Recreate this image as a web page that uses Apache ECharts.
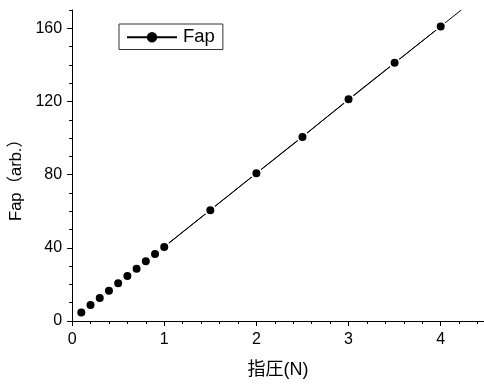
<!DOCTYPE html>
<html>
<head>
<meta charset="utf-8">
<script src="https://cdn.jsdelivr.net/npm/echarts@6/dist/echarts.min.js"></script>
<style>
	html, body { margin: 0; padding: 0; background: #fff; }
	#chart { width: 484px; height: 385px; }
</style>
</head>
<body>
<div id="chart"></div>
<script>
	// 指圧 (N)
	const pressure = [0.1, 0.2, 0.3, 0.4, 0.5, 0.6, 0.7, 0.8, 0.9, 1.0, 1.5, 2.0, 2.5, 3.0, 3.5, 4.0]
	// Fap (arb.)
	const fap = [4.7, 8.7, 12.6, 16.6, 20.6, 24.6, 28.6, 32.6, 36.6, 40.5, 60.6, 80.7, 100.6, 121.2, 141.1, 161.0]

	const xMajorTicks = [0, 1, 2, 3, 4]
	const yMajorTicks = [0, 40, 80, 120, 160]
	const xMin = 0, xMax = 4.47, xMinorStep = 0.2
	const yMin = 0, yMax = 170, yMinorStep = 10

	const steps = (min, max, step) => {
		const out = []
		for (let i = 0; min + i * step <= max + 1e-9; i++) {
			out.push(+(min + i * step).toFixed(6))
		}
		return out
	}

	// 最小二乗フィット（線を上端まで延長）
	const n = pressure.length
	const mx = pressure.reduce((a, b) => a + b, 0) / n
	const my = fap.reduce((a, b) => a + b, 0) / n
	let sxy = 0, sxx = 0
	pressure.forEach((x, i) => {
		sxy += (x - mx) * (fap[i] - my)
		sxx += (x - mx) * (x - mx)
	})
	const slope = sxy / sxx
	const icpt = my - slope * mx
	const fitLine = [
		[pressure[0], icpt + slope * pressure[0]],
		[(yMax - icpt) / slope, yMax]
	]

	const font = "'Liberation Sans', 'Noto Sans CJK JP', sans-serif"
	const dark = '#000'

	const chart = echarts.init(document.getElementById('chart'))
	chart.setOption({
		animation: false,
		textStyle: { fontFamily: font },
		grid: { left: 70, right: 0, top: 10, bottom: 64 },
		legend: {
			left: 119,
			top: 24,
			data: ['Fap'],
			orient: 'horizontal',
			borderColor: '#333',
			borderWidth: 1,
			borderRadius: 0,
			padding: [4, 8, 3, 7],
			itemWidth: 50,
			itemHeight: 13,
			itemGap: 4,
			itemStyle: { borderWidth: 0 },
			textStyle: { fontSize: 18.5, color: dark, fontFamily: font, padding: [0, 0, 0, 1] }
		},
		xAxis: [
			{
				type: 'value',
				position: 'bottom',
				min: xMin,
				max: xMax,
				name: '指圧(N)',
				nameLocation: 'middle',
				nameGap: 40,
				nameTextStyle: { fontSize: 18, color: dark, fontFamily: font },
				splitLine: { show: false },
				axisLine: { show: true, onZero: false, lineStyle: { color: dark, width: 1 } },
				axisTick: { show: true, length: 5, customValues: xMajorTicks, lineStyle: { color: dark } },
				axisLabel: { customValues: xMajorTicks, fontSize: 16, color: dark, margin: 11 }
			},
			{
				type: 'value',
				position: 'bottom',
				min: xMin,
				max: xMax,
				splitLine: { show: false },
				axisLine: { show: false },
				axisLabel: { show: false },
				axisTick: { show: true, length: 3, customValues: steps(xMin, xMax, xMinorStep), lineStyle: { color: dark } }
			}
		],
		yAxis: [
			{
				type: 'value',
				position: 'left',
				min: yMin,
				max: yMax,
				name: 'Fap（arb.）',
				nameLocation: 'middle',
				nameGap: 43,
				nameTextStyle: { fontSize: 16.5, color: dark, fontFamily: font, padding: [0, 21, 0, 0] },
				splitLine: { show: false },
				axisLine: { show: true, onZero: false, lineStyle: { color: dark, width: 1 } },
				axisTick: { show: true, length: 5, customValues: yMajorTicks, lineStyle: { color: dark } },
				axisLabel: { customValues: yMajorTicks, fontSize: 16, color: dark, margin: 10 }
			},
			{
				type: 'value',
				position: 'left',
				min: yMin,
				max: yMax,
				splitLine: { show: false },
				axisLine: { show: false },
				axisLabel: { show: false },
				axisTick: { show: true, length: 3, customValues: steps(yMin, yMax, yMinorStep), lineStyle: { color: dark } }
			}
		],
		series: [
			{
				name: 'fit',
				type: 'line',
				data: fitLine,
				symbol: 'none',
				silent: true,
				z: 1,
				lineStyle: { color: dark, width: 1 }
			},
			{
				name: 'Fap',
				type: 'line',
				data: pressure.map((x, i) => [x, fap[i]]),
				symbol: 'circle',
				symbolSize: 10,
				z: 2,
				lineStyle: { color: dark, width: 1 },
				itemStyle: { color: dark, borderColor: '#fff', borderWidth: 2 }
			}
		]
	})
</script>
</body>
</html>
